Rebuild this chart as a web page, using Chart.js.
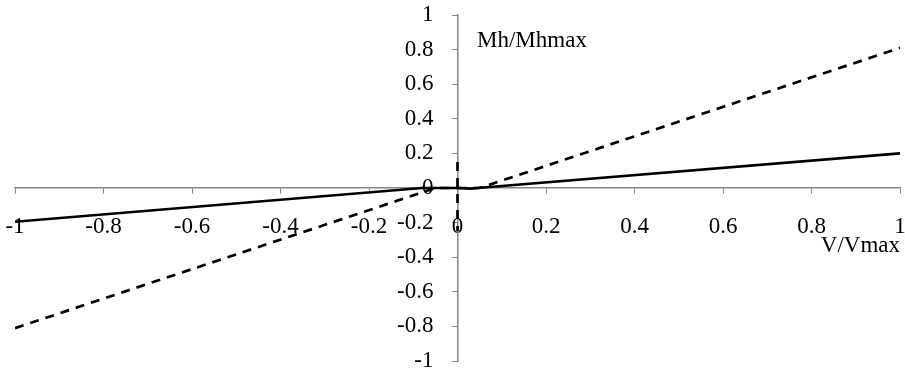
<!DOCTYPE html>
<html lang="en">
<head>
    <meta charset="UTF-8">
    <title>Mh/Mhmax vs V/Vmax</title>
    <script src="https://cdn.jsdelivr.net/npm/chart.js"></script>
    <style>
        * {
            margin: 0;
            padding: 0;
            box-sizing: border-box;
        }

        body {
            background: white;
            width: 905px;
            height: 370px;
            overflow: hidden;
        }

        .chart-box {
            position: relative;
            width: 905px;
            height: 370px;
        }
    </style>
</head>
<body>
    <div class="chart-box">
        <canvas id="interactionChart"></canvas>
    </div>

    <script>
        // Data: normalised moment against normalised shear
        // (null breaks the dashed path around the vertical jump at V = 0)
        const solidX = [-1, -0.08, 0, 0.03, 0.045, 1];
        const solidY = [-0.195, 0, 0, -0.004, 0, 0.2];
        const dashedX = [-1, -0.05, 0, 0, 0, 0, 0, 0, 0.05, 1];
        const dashedY = [-0.81, 0, 0, null, 0.15, -0.25, null, 0, 0, 0.81];
        const axisTicks = [-1, -0.8, -0.6, -0.4, -0.2, 0, 0.2, 0.4, 0.6, 0.8, 1];

        const toPoints = (xs, ys) => xs.map((x, i) => ({ x: x, y: ys[i] }));

        const FONT = "'Liberation Serif', 'Times New Roman', serif";
        const AXIS_GREY = '#868686';
        const Y_LABEL_GAP = 24;

        // Centred axes: drop the label overflow padding so the plot fills the canvas
        const noScalePadding = (scale) => {
            scale.paddingLeft = 0;
            scale.paddingRight = 0;
            scale.paddingTop = 0;
            scale.paddingBottom = 0;
        };

        // Y labels on a centred axis sit flush with the line; push them left
        const shiftYLabels = {
            id: 'shiftYLabels',
            beforeDraw(chart) {
                const yScale = chart.scales.y;
                yScale.getLabelItems(chart.chartArea).forEach(item => {
                    if (!item._shifted) {
                        item.options.translation[0] -= Y_LABEL_GAP;
                        item._shifted = true;
                    }
                });
            }
        };

        // Axis titles sit inside the plot, next to the axis ends
        const axisTitles = {
            id: 'axisTitles',
            afterDraw(chart) {
                const ctx = chart.ctx;
                ctx.save();
                ctx.font = '23px ' + FONT;
                ctx.fillStyle = '#000';
                ctx.textBaseline = 'alphabetic';
                ctx.textAlign = 'left';
                ctx.fillText('Mh/Mhmax', 477, 47);
                ctx.textAlign = 'right';
                ctx.fillText('V/Vmax', 900, 252);
                ctx.restore();
            }
        };

        const ctx = document.getElementById('interactionChart').getContext('2d');
        new Chart(ctx, {
            type: 'scatter',
            data: {
                datasets: [{
                    data: toPoints(solidX, solidY),
                    showLine: true,
                    borderColor: '#000',
                    borderWidth: 2.7,
                    pointRadius: 0,
                    tension: 0
                }, {
                    data: toPoints(dashedX, dashedY),
                    showLine: true,
                    spanGaps: false,
                    borderColor: '#000',
                    borderWidth: 2.7,
                    borderDash: [9, 7],
                    pointRadius: 0,
                    tension: 0
                }]
            },
            options: {
                responsive: true,
                maintainAspectRatio: false,
                animation: false,
                layout: {
                    padding: { left: 15, right: 5, top: 15, bottom: 9 }
                },
                plugins: {
                    legend: { display: false },
                    tooltip: { enabled: false }
                },
                scales: {
                    x: {
                        type: 'linear',
                        min: -1,
                        max: 1,
                        position: { y: 0 },
                        afterFit: noScalePadding,
                        afterBuildTicks: (axis) => {
                            axis.ticks = axisTicks.map(v => ({ value: v }));
                        },
                        grid: {
                            drawOnChartArea: false,
                            drawTicks: true,
                            tickLength: 5,
                            color: AXIS_GREY
                        },
                        border: { display: true, color: AXIS_GREY, width: 1.5 },
                        ticks: {
                            color: '#000',
                            font: { family: FONT, size: 23 },
                            padding: 20,
                            maxRotation: 0,
                            autoSkip: false,
                            callback: (v) => String(Math.round(v * 10) / 10)
                        }
                    },
                    y: {
                        type: 'linear',
                        min: -1,
                        max: 1,
                        position: { x: 0 },
                        afterFit: noScalePadding,
                        afterBuildTicks: (axis) => {
                            axis.ticks = axisTicks.map(v => ({ value: v }));
                        },
                        grid: {
                            drawOnChartArea: false,
                            drawTicks: true,
                            tickLength: 5,
                            color: AXIS_GREY
                        },
                        border: { display: true, color: AXIS_GREY, width: 1.5 },
                        ticks: {
                            color: '#000',
                            font: { family: FONT, size: 23 },
                            autoSkip: false,
                            callback: (v) => String(Math.round(v * 10) / 10)
                        }
                    }
                }
            },
            plugins: [shiftYLabels, axisTitles]
        });
    </script>
</body>
</html>
